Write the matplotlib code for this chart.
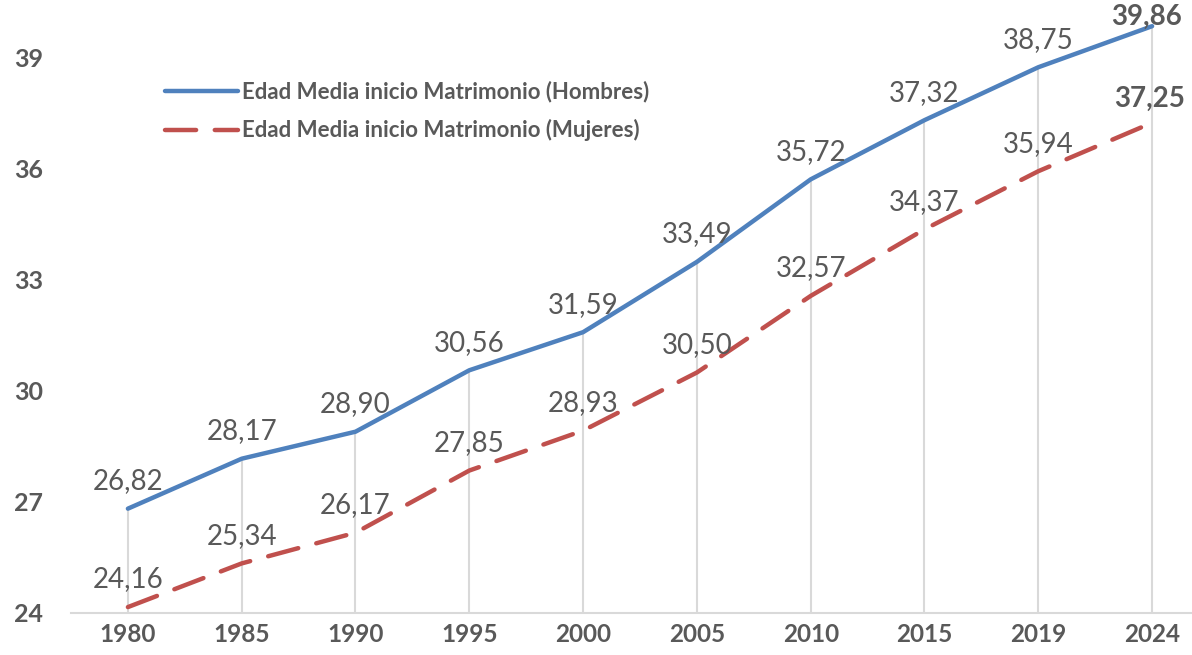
import matplotlib
matplotlib.use("Agg")
import matplotlib.pyplot as plt

years = ["1980", "1985", "1990", "1995", "2000", "2005", "2010", "2015", "2019", "2024"]
hombres = [26.82, 28.17, 28.90, 30.56, 31.59, 33.49, 35.72, 37.32, 38.75, 39.86]
mujeres = [24.16, 25.34, 26.17, 27.85, 28.93, 30.50, 32.57, 34.37, 35.94, 37.25]
yticks = [24, 27, 30, 33, 36, 39]
label_h = "Edad Media inicio Matrimonio (Hombres)"
label_m = "Edad Media inicio Matrimonio (Mujeres)"

plt.rcParams['font.family'] = ['Lato', 'DejaVu Sans']
TXT = "#595959"
BLUE = "#4F81BD"
RED = "#C0504D"
GRID = "#D9D9D9"

W, H = 1192, 655
fig = plt.figure(figsize=(W / 100, H / 100), dpi=100)
ax = fig.add_axes([71 / W, 42 / H, 1138 / W, 613 / H])

x = list(range(len(years)))
ymin = 24
ymax = 24 + 613 / 37.0

# drop lines
for xi, yh in zip(x, hombres):
    ax.plot([xi, xi], [ymin, yh], color=GRID, lw=1.5, zorder=1, solid_capstyle='butt')

ax.plot(x, hombres, color=BLUE, lw=3.2, solid_capstyle='round', solid_joinstyle='round',
        label=label_h, zorder=3)
ax.plot(x, mujeres, color=RED, lw=3.2, dashes=(7, 4.2), dash_capstyle='round',
        label=label_m, zorder=3)

n = len(years)
for i, (xi, v) in enumerate(zip(x, hombres)):
    last = i == n - 1
    ax.annotate(f"{v:.2f}".replace(".", ","), (xi, v),
                xytext=(-4, -3) if last else (0, 10.5),
                textcoords='offset points', ha='center', va='bottom',
                fontsize=20, color=TXT, fontweight='bold' if last else 'normal',
                annotation_clip=False, zorder=4)
for i, (xi, v) in enumerate(zip(x, mujeres)):
    last = i == n - 1
    ax.annotate(f"{v:.2f}".replace(".", ","), (xi, v),
                xytext=(-2, 8) if last else (0, 10.5),
                textcoords='offset points', ha='center', va='bottom',
                fontsize=20, color=TXT, fontweight='bold' if last else 'normal',
                annotation_clip=False, zorder=4)

ax.set_xlim(-0.5, n - 0.5)
ax.set_ylim(ymin, ymax)
ax.set_xticks(x)
ax.set_xticklabels(years, fontsize=17.5, fontweight='bold', color=TXT)
ax.set_yticks(yticks)
ax.set_yticklabels([str(t) for t in yticks], fontsize=18, fontweight='bold', color=TXT)
ax.tick_params(axis='both', length=0)
ax.tick_params(axis='x', pad=7)
ax.tick_params(axis='y', pad=20)
for s in ['top', 'right', 'left']:
    ax.spines[s].set_visible(False)
ax.spines['bottom'].set_color(GRID)
ax.spines['bottom'].set_linewidth(1.5)

leg = ax.legend(loc='upper left', bbox_to_anchor=(85 / 1138, 1 - 72 / 613), frameon=False,
                prop={'family': 'Lato', 'weight': 'bold', 'size': 16},
                handlelength=3.3, handletextpad=0.15, labelspacing=0.75, borderaxespad=0)
for t in leg.get_texts():
    t.set_color(TXT)

fig.savefig("out.png", dpi=100, facecolor='white')
